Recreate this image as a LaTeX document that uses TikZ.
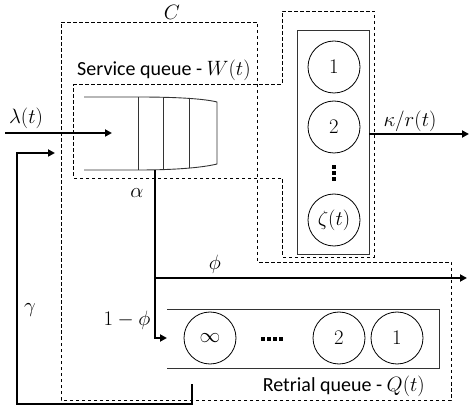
\documentclass[tikz,border=0pt]{standalone}
\usepackage{fontspec}
\setmainfont{Carlito}
\usetikzlibrary{arrows.meta}
\begin{document}
\begin{tikzpicture}[x=1pt,y=-1pt,
  font=\fontsize{20}{24}\selectfont,
  flow/.style={line width=1.8pt,-{Triangle[length=7pt,width=7pt]}},
  dbox/.style={line width=0.8pt,dash pattern=on 3.5pt off 2.5pt},
  qline/.style={line width=0.9pt,draw=black!80},
  srv/.style={circle,draw,line width=0.8pt,minimum size=52pt,inner sep=0pt},
  dotsq/.style={fill=black,minimum size=3.2pt,inner sep=0pt},
  lbl/.style={inner sep=1pt}]
\useasboundingbox (0,0) rectangle (469,414);

% dashed outlines
\draw[dbox] (61,22) -- (257,22) -- (257,262) -- (451,262) -- (451,400) -- (61,400) -- cycle;
\draw[dbox] (73,84) -- (282,84) -- (282,11) -- (374,11) -- (374,257) -- (282,257) -- (282,178) -- (73,178) -- cycle;

% service queue shape
\draw[qline] (84,97) -- (138,97) .. controls (180,97) and (205,99) .. (217,102) -- (217,164) .. controls (205,167) and (180,170) .. (138,170) -- (84,170);
\draw[qline] (138,97) -- (138,170);
\draw[qline] (163,97.5) -- (163,169.5);
\draw[qline] (189,99) -- (189,168);

% servers
\node[draw,qline,minimum width=72pt,minimum height=224pt,inner sep=0pt] (sbox) at (333,142) {};
\node[srv] (s1) at (334,67) {$1$};
\node[srv] (s2) at (334,127) {$2$};
\node[dotsq] (sd1) at (334,167) {};
\node[dotsq] (sd2) at (334,173) {};
\node[dotsq] (sd3) at (334,179) {};
\node[srv] (sz) at (334,220) {$\zeta(t)$};

% retrial queue
\draw[qline] (167,309) -- (439,309) -- (439,368) -- (167,368);
\node[srv] (rinf) at (210,338) {$\infty$};
\node[dotsq] (rd1) at (263,339) {};
\node[dotsq] (rd2) at (269,339) {};
\node[dotsq] (rd3) at (275,339) {};
\node[dotsq] (rd4) at (281,339) {};
\node[srv] (r2) at (339,338) {$2$};
\node[srv] (r1) at (397,338) {$1$};

% coordinates
\coordinate (lin) at (5,133);
\coordinate (lend) at (112,133);
\coordinate (out) at (469,134);
\coordinate (qbot) at (155,170);
\coordinate (split) at (155,278);
\coordinate (phiend) at (467,278);
\coordinate (ret) at (167,338);
\coordinate (rstart) at (192,384);
\coordinate (fb1) at (192,404);
\coordinate (fb2) at (17,404);
\coordinate (fb3) at (17,153);
\coordinate (fbend) at (55,153);

% connectors
\draw[flow] (lin) -- (lend);
\draw[flow] (sbox.east |- out) -- (out);
\draw[flow] (qbot) -- (qbot |- ret) -- (ret);
\draw[flow] (split) -- (phiend);
\draw[flow] (rstart) -- (fb1) -- (fb2) -- (fb3) -- (fbend);

% labels
\node[lbl] (lC) at (172,12) {$C$};
\node[lbl,anchor=west] (lW) at (76,70) {Service queue - $W(t)$};
\node[lbl] (llam) at (26,118) {$\lambda(t)$};
\node[lbl] (lkap) at (410,121) {$\kappa/r(t)$};
\node[lbl] (lalp) at (137,193) {$\alpha$};
\node[lbl] (lphi) at (215,264) {$\phi$};
\node[lbl] (l1phi) at (127,320) {$1-\phi$};
\node[lbl] (lgam) at (30,310) {$\gamma$};
\node[lbl,anchor=east] (lQ) at (426,386) {Retrial queue - $Q(t)$};
\end{tikzpicture}
\end{document}
